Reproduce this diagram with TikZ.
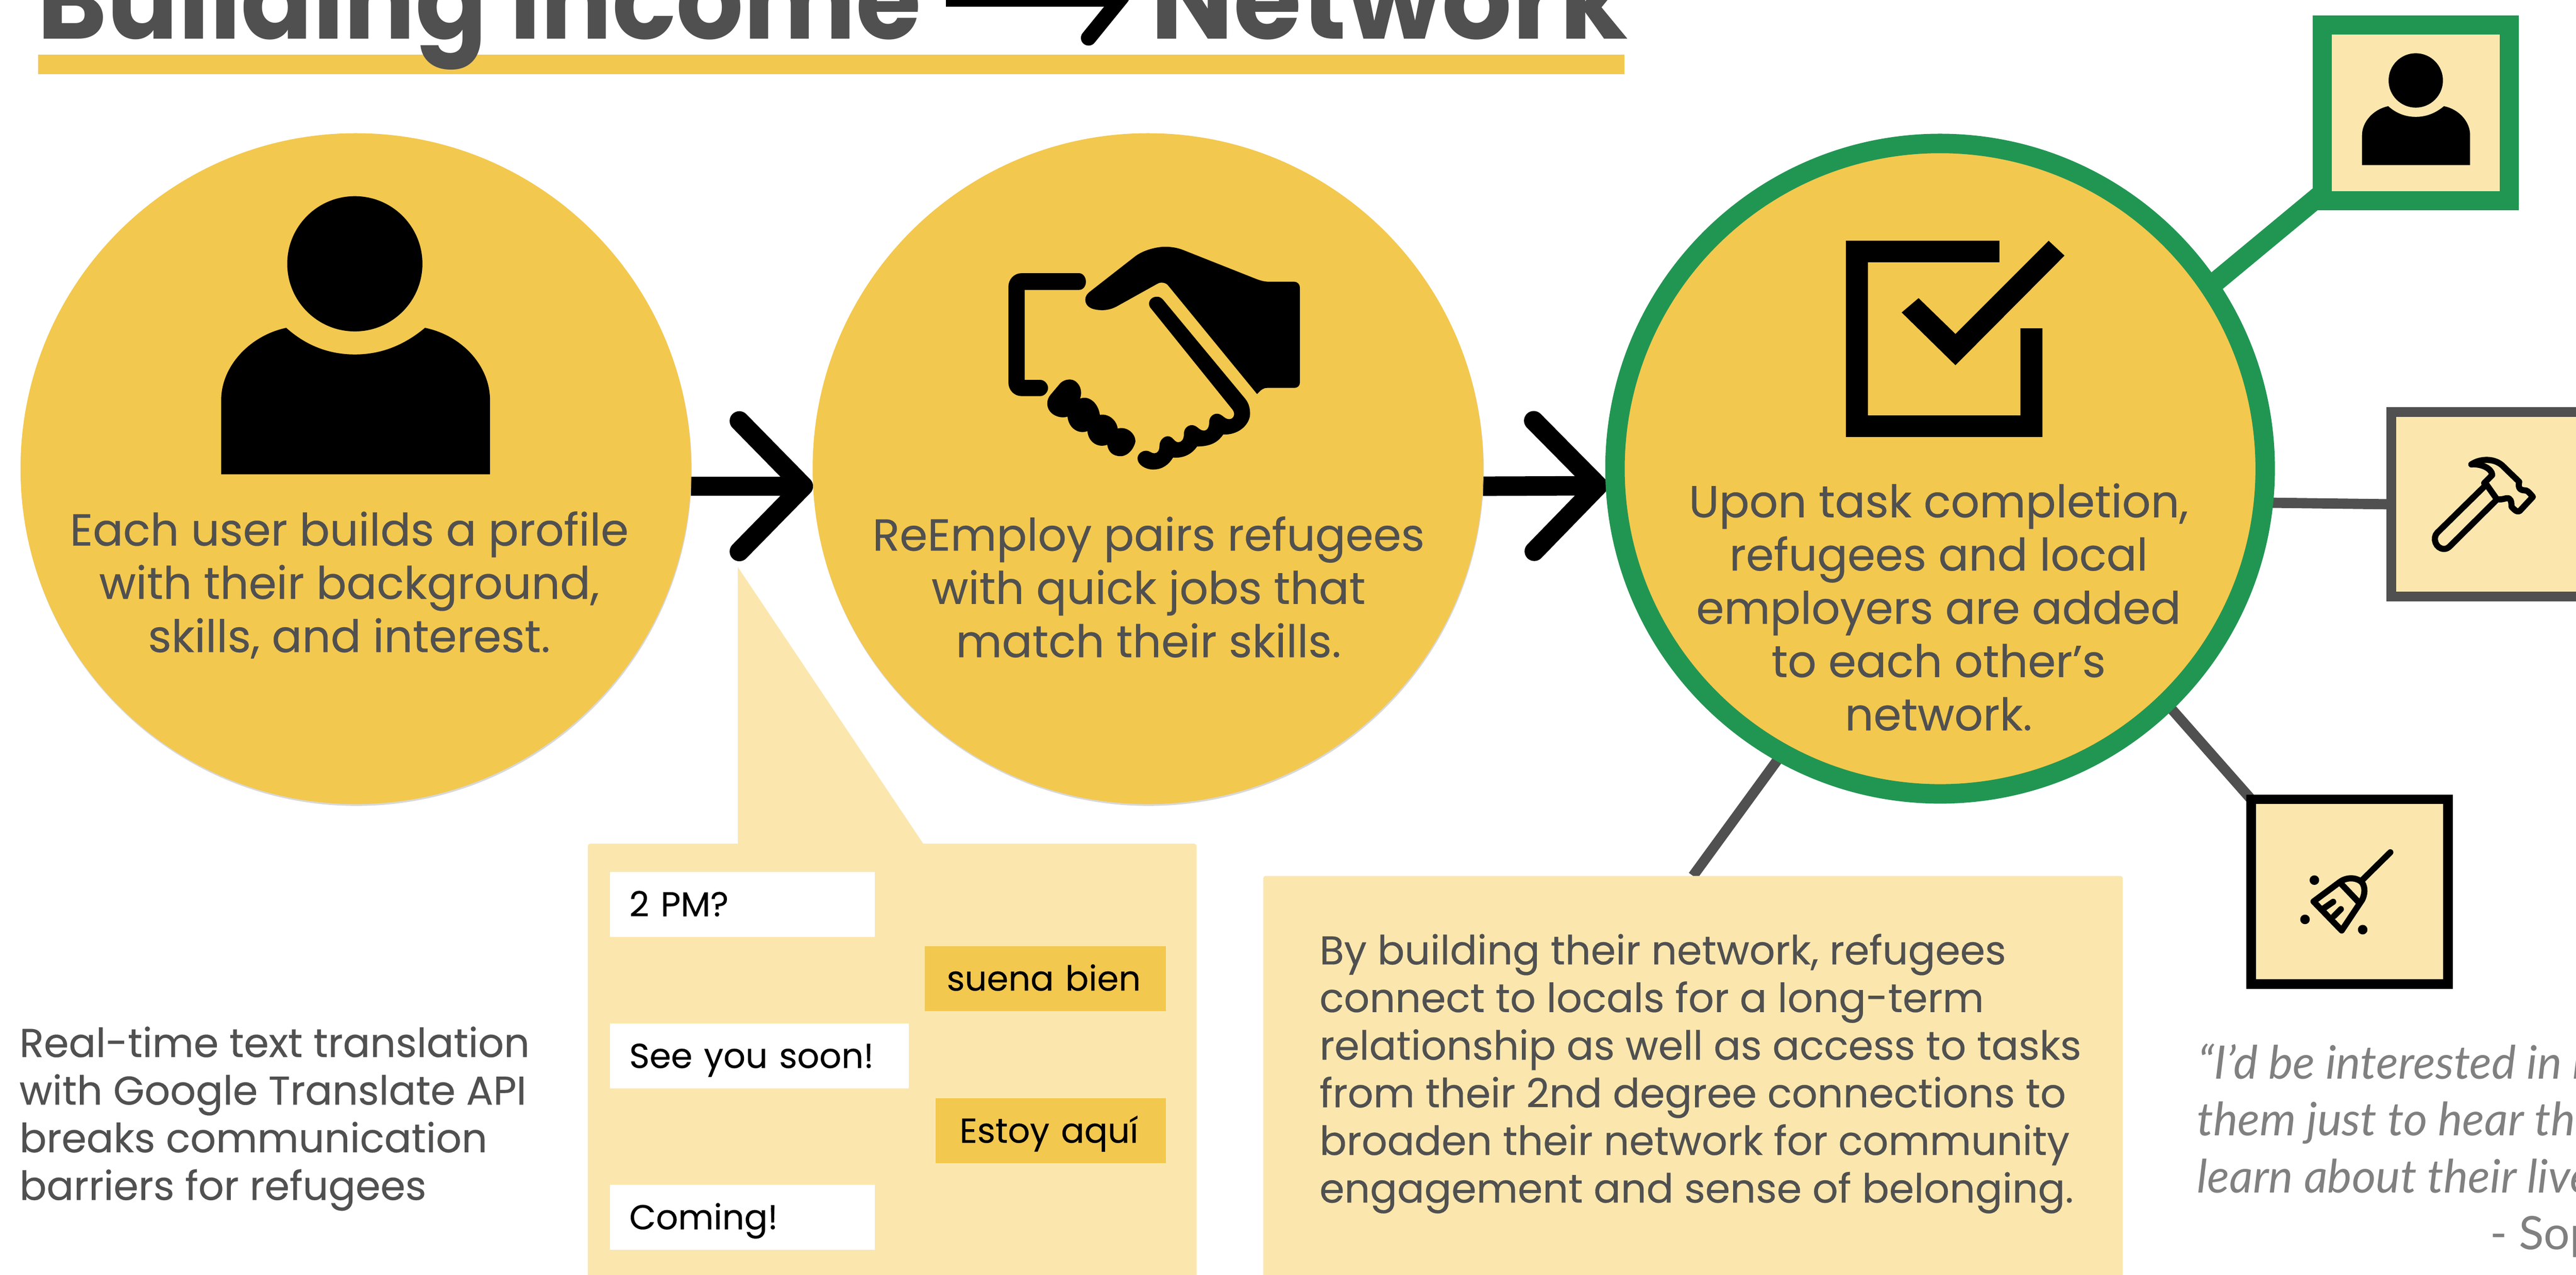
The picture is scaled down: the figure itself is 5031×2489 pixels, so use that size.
\documentclass[tikz,border=0pt]{standalone}
\usepackage{fontspec}
\usetikzlibrary{arrows.meta,backgrounds,shapes.geometric}
\newfontfamily\pop[FakeBold=0.25]{Poppins}
\newfontfamily\titleA[FakeStretch=0.94]{Poppins}
\newfontfamily\titleB[FakeStretch=0.98]{Poppins}
\newfontfamily\lat{Lato}
\definecolor{gold}{HTML}{F3C84E}
\definecolor{pale}{HTML}{FBE7AE}
\definecolor{ink}{HTML}{505050}
\definecolor{leaf}{HTML}{219653}
\definecolor{quote}{HTML}{808080}
\tikzset{
  x=0.1pt,y=-0.1pt,
  disc/.style={circle,fill=gold,inner sep=0pt,outer sep=0pt,minimum size=131pt},
  softshadow/.style={preaction={fill=black!30,opacity=.5,transform canvas={shift={(0.1pt,-0.35pt)}}}},
  ringdisc/.style={disc,draw=leaf,line width=3.8pt,minimum size=127pt},
  iconbox/.style={rectangle,fill=pale,inner sep=0pt,outer sep=0pt},
  flow/.style={line width=3.8pt,-{Straight Barb[length=12.5pt,width=25.5pt,round,line width=3.8pt]}},
  link/.style={line width=2pt,draw=ink},
  body/.style={inner sep=0pt,outer sep=0pt,text=ink,font=\pop\fontsize{8.75}{10.4}\selectfont,align=center},
  side/.style={inner sep=0pt,outer sep=0pt,text=ink,font=\pop\fontsize{7.84}{9.3}\selectfont,align=left,anchor=north west},
  bubble/.style={rectangle,inner sep=0pt,outer sep=0pt,text=black,font=\pop\fontsize{6.75}{8}\selectfont,
     text height=4.7pt,text depth=0pt,minimum height=12.7pt,align=left},
  panel/.style={rectangle,fill=pale,rounded corners=0.5pt,inner sep=0pt,outer sep=0pt,anchor=north west},
  quoteline/.style={inner sep=0pt,outer sep=0pt,text=quote,font=\lat\itshape\fontsize{9}{11.2}\selectfont,anchor=base west},
  thin icon/.style={line width=1.2pt,draw=black,line cap=round,line join=round},
  personicon/.pic={
    \fill (0,0) circle[radius=132];
    \fill (-134,125) .. controls (-95,160) and (-50,177) .. (0,177)
      .. controls (50,177) and (95,160) .. (137,125)
      .. controls (210,140) and (264,200) .. (264,266) -- (264,411) -- (-261,411) -- (-261,266)
      .. controls (-261,200) and (-205,140) .. (-134,125) -- cycle;
  }
}
\begin{document}
\begin{tikzpicture}
\useasboundingbox (0,0) rectangle (5031,2489);
\clip (0,0) rectangle (5031,2489);
% title
\node[rectangle,fill=gold,inner sep=0pt,outer sep=0pt,minimum width=309.9pt,minimum height=3.8pt,anchor=north west] (rule) at (74,107) {};
\node[inner sep=0pt,outer sep=0pt,anchor=base west,text=ink,font=\titleA\bfseries\fontsize{22}{22}\selectfont] (ti1) at (73,76) {Building Income};
\node[inner sep=0pt,outer sep=0pt,anchor=base west,text=ink,font=\titleB\bfseries\fontsize{22}{22}\selectfont] (ti2) at (2247,76) {Network};
\coordinate (tas) at (1847,-6);
\coordinate (tae) at (2206,-6);
\draw[line width=3.8pt,-{Straight Barb[length=6.5pt,width=16pt,round,line width=3pt]}] (tas) -- (tae);

% circles
\node[disc,softshadow] (c1) at (695,915) {};
\node[disc,softshadow] (c2) at (2242,915) {};
\node[ringdisc] (c3) at (3789,915) {};

% icon boxes
\node[iconbox,draw=leaf,line width=3.7pt,minimum width=36.5pt,minimum height=34.3pt] (b1) at (4718,220) {};
\node[iconbox,draw=ink,line width=1.9pt,minimum width=40pt,minimum height=36pt] (b2) at (4870,984.5) {};
\node[iconbox,draw=black,line width=1.9pt,minimum width=38.4pt,minimum height=36.1pt] (b3) at (4588.5,1741) {};

% callouts
\coordinate (chattip) at (1441,1107);
\node[panel,minimum width=118.9pt,minimum height=100pt] (chat) at (1148,1647) {};
\fill[pale] (chattip) -- (1803,1647) -- (1441,1647) -- cycle;
\node[panel,minimum width=167.9pt,minimum height=100pt] (note) at (2467,1710) {};

% connectors behind
\begin{pgfonlayer}{background}
\draw[flow] (c1.-3.33) -- (c2.183.33);
\draw[flow] (c2.-3.33) -- ([xshift=-1.5pt]c3.183.4);
\draw[line width=3.9pt,draw=leaf] (c3.34.4) -- ([yshift=1.4pt]b1.south west);
\draw[link] (c3.-6) -- (b2.west);
\draw[link] (c3.-46.5) -- (b3.north west);
\draw[link] (c3.241.2) -- (note.north);
\end{pgfonlayer}

% person icons
\pic at (693,515) {personicon};
\pic[scale=.402] at (4718,157) {personicon};

% handshake
\begin{scope}[shift={(1940,450)},xscale=1/2.45,yscale=1/3]
\fill (410,250) .. controls (430,250) and (443,275) .. (443,300) .. controls (443,325) and (430,348) .. (410,348) -- (150,348) -- (150,875) -- (225,875)
  .. controls (245,875) and (262,900) .. (262,922) .. controls (262,945) and (245,970) .. (225,970) -- (135,970)
  .. controls (100,970) and (72,935) .. (72,890) -- (72,330) .. controls (72,285) and (100,250) .. (135,250) -- cycle;
\fill (460,360) -- (680,150) .. controls (730,105) and (800,95) .. (820,95) .. controls (860,95) and (890,105) .. (910,115)
  -- (1250,280) .. controls (1280,295) and (1300,300) .. (1320,300) -- (1440,300) .. controls (1455,300) and (1467,315) .. (1467,335)
  -- (1467,890) .. controls (1467,910) and (1455,922) .. (1440,922) -- (1310,922) .. controls (1290,922) and (1280,935) .. (1262,958)
  -- (835,320) .. controls (825,305) and (800,300) .. (785,312) -- (590,445) .. controls (560,465) and (530,468) .. (510,466)
  .. controls (470,464) and (440,445) .. (440,405) .. controls (440,385) and (450,370) .. (460,360) -- cycle;
\fill (750,450) .. controls (735,420) and (755,385) .. (785,388) .. controls (795,388) and (805,395) .. (812,405) -- (1205,985)
  .. controls (1225,1015) and (1230,1050) .. (1228,1085) .. controls (1220,1145) and (1170,1198) .. (1100,1195)
  .. controls (1080,1230) and (1050,1265) .. (975,1265) .. controls (950,1310) and (910,1335) .. (860,1330)
  .. controls (840,1370) and (810,1400) .. (765,1400) .. controls (725,1400) and (690,1370) .. (690,1335)
  .. controls (690,1310) and (710,1290) .. (730,1290) .. controls (750,1290) and (755,1305) .. (770,1305)
  .. controls (785,1305) and (795,1290) .. (795,1260) .. controls (795,1230) and (815,1205) .. (835,1205)
  .. controls (860,1205) and (865,1240) .. (885,1240) .. controls (900,1240) and (912,1225) .. (912,1190)
  .. controls (912,1160) and (930,1140) .. (950,1140) .. controls (975,1140) and (985,1172) .. (1007,1172)
  .. controls (1025,1172) and (1033,1150) .. (1033,1120) .. controls (1033,1095) and (1050,1073) .. (1070,1073)
  .. controls (1095,1073) and (1105,1105) .. (1128,1105) .. controls (1150,1105) and (1160,1075) .. (1145,1050) -- cycle;
\fill (320,895) .. controls (340,870) and (375,865) .. (395,885) .. controls (420,910) and (425,950) .. (415,985)
  .. controls (450,965) and (500,1000) .. (510,1080) .. controls (550,1070) and (590,1110) .. (595,1160)
  .. controls (640,1145) and (680,1190) .. (680,1235) .. controls (675,1270) and (650,1320) .. (610,1322)
  .. controls (570,1322) and (550,1295) .. (545,1255) .. controls (500,1275) and (455,1240) .. (450,1175)
  .. controls (410,1195) and (360,1160) .. (355,1090) .. controls (320,1105) and (260,1080) .. (258,1015)
  .. controls (258,990) and (265,975) .. (275,960) -- cycle;
\end{scope}

% checkbox
\fill (3605,470) -- (3905,470) -- (3905,512) -- (3648,512) -- (3648,811) -- (3946,811) -- (3946,641) -- (3989,641) -- (3989,853) -- (3605,853) -- cycle;
\fill (4001,470) -- (4032,499) -- (3819,713) -- (3714,610) -- (3747,582) -- (3819,652) -- cycle;

% hammer
\begin{scope}[shift={(4660,850)},scale=1/3]
\draw[thin icon] (575,300) -- (300,570) .. controls (270,600) and (290,665) .. (340,665) .. controls (355,665) and (365,658) .. (375,648) -- (650,375);
\draw[thin icon] (590,290) -- (650,375);
\draw[thin icon] (500,170) .. controls (550,135) and (640,130) .. (690,185) -- (780,272) .. controls (775,295) and (775,320) .. (810,322)
  .. controls (825,320) and (835,330) .. (860,360) -- (790,435) .. controls (775,455) and (760,445) .. (735,418)
  .. controls (735,385) and (730,365) .. (705,368) .. controls (690,372) and (680,375) .. (660,375);
\draw[thin icon] (500,170) .. controls (560,165) and (620,195) .. (622,232) -- (575,280);
\end{scope}

% broom
\begin{scope}[shift={(4470,1640)},scale=1/3]
\draw[thin icon] (595,72) -- (430,235);
\draw[thin icon] (145,360) -- (300,245) .. controls (350,210) and (410,225) .. (430,250) .. controls (450,280) and (445,320) .. (430,350) -- (310,530) -- cycle;
\draw[thin icon] (310,260) -- (410,365);
\draw[thin icon] (205,400) -- (260,362);
\draw[thin icon] (265,445) -- (305,405);
\fill (150,235) circle[radius=28];
\fill (95,465) circle[radius=28];
\fill (433,525) circle[radius=28];
\end{scope}

% circle text
\node[body] (t1) at (682,1142) {Each user builds a profile\\with their background,\\skills, and interest.};
\node[body] (t2) at (2243,1146) {ReEmploy pairs refugees\\with quick jobs that\\match their skills.};
\node[body] (t3) at (3786,1185) {Upon task completion,\\refugees and local\\employers are added\\to each other’s\\network.};

% side texts
\node[side] (lt) at (38,2004) {Real-time text translation\\with Google Translate API\\breaks communication\\barriers for refugees};
\node[side] (nt) at (2577,1823) {By building their network, refugees\\connect to locals for a long-term\\relationship as well as access to tasks\\from their 2nd degree connections to\\broaden their network for community\\engagement and sense of belonging.};

% chat bubbles
\node[bubble,fill=white,anchor=north west,minimum width=51.8pt,text width=44.2pt] (m1) at (1191,1702) {2 PM?};
\node[bubble,fill=gold,anchor=north west,minimum width=47.1pt,text width=38.5pt] (m2) at (1806,1847) {suena bien};
\node[bubble,fill=white,anchor=north west,minimum width=58.4pt,text width=50.8pt] (m3) at (1191,1998) {See you soon!};
\node[bubble,fill=gold,anchor=north west,minimum width=45pt,text width=35.6pt] (m4) at (1827,2144) {Estoy aquí};
\node[bubble,fill=white,anchor=north west,minimum width=51.8pt,text width=44.2pt] (m5) at (1191,2313) {Coming!};

% quote
\node[quoteline] (q1) at (4293,2106) {“I’d be interested in m};
\node[quoteline] (q2) at (4291,2217) {them just to hear the};
\node[quoteline] (q3) at (4291,2329) {learn about their live};
\node[quoteline,font=\lat\fontsize{9}{11.2}\selectfont] (q4) at (4863,2439) {- Sop};
\end{tikzpicture}
\end{document}
